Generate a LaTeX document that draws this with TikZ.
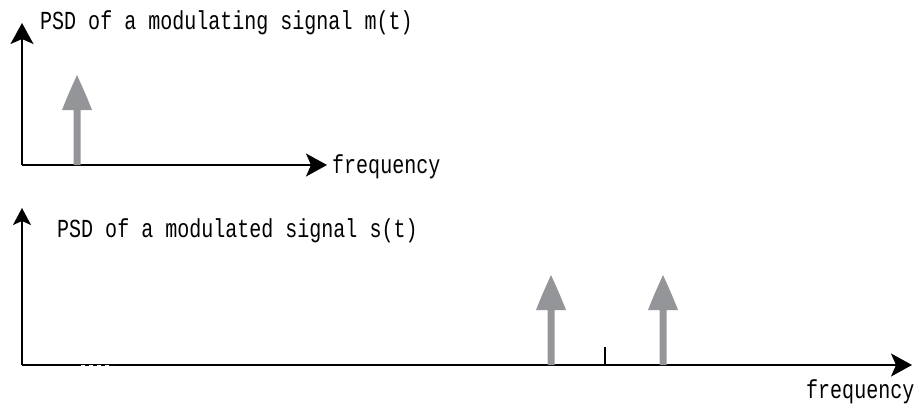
\documentclass[tikz,border=0pt]{standalone}
\usepackage{fontspec}
\setmonofont{Liberation Mono}
\usetikzlibrary{arrows.meta}
\definecolor{gcol}{HTML}{939598}
\tikzset{
  axis/.style={line width=1.8pt, black},
  bigtip/.style={-{Stealth[length=21pt 0 0, width=23pt 0 0, inset=5pt 0 0]}},
  smalltip/.style={-{Stealth[length=17pt 0 0, width=18pt 0 0, inset=4pt 0 0]}},
  lbl/.style={inner sep=0pt, font=\fontsize{26}{26}\selectfont\ttfamily},
  gfill/.style={fill=gcol, draw=none}
}
\newcommand\grayarrow[3]{%
  \fill[gfill] (#1-3.5,#2) -- (#1-3.5,#3+35) -- (#1-15,#3+35)
    .. controls (#1-9,#3+20) .. (#1,#3)
    .. controls (#1+9,#3+20) .. (#1+15,#3+35)
    -- (#1+3.5,#3+35) -- (#1+3.5,#2) -- cycle;}
\begin{document}
\begin{tikzpicture}[x=1pt,y=-1pt]
\useasboundingbox (0,0) rectangle (917,404);
% top panel
\coordinate (o1) at (22,165);
\coordinate (y1) at (22,23);
\coordinate (x1) at (327,165);
\draw[axis,bigtip] (o1) -- (y1);
\draw[axis,bigtip] (o1) -- (x1);
\grayarrow{77}{165}{75}
\node[lbl,anchor=base west] (t1) at (40,30) {\scalebox{0.77}[1]{PSD of a modulating signal m(t)}};
\node[lbl,anchor=base west] (f1) at (332,173) {\scalebox{0.77}[1]{frequency}};
% bottom panel
\coordinate (o2) at (22,365);
\coordinate (y2) at (22,208);
\coordinate (x2) at (912,365);
\draw[axis,smalltip,line width=1.6pt] (o2) -- (y2);
\draw[axis,bigtip] (o2) -- (x2);
\draw[white,line width=1pt,dash pattern=on 4pt off 4pt] (81,365) -- (113,365);
\grayarrow{551}{365}{275}
\grayarrow{663}{365}{275}
\coordinate (tk0) at (605,365);
\coordinate (tk1) at (605,347);
\draw[line width=1.5pt] (tk0) -- (tk1);
\node[lbl,anchor=base west] (t2) at (57,237) {\scalebox{0.77}[1]{PSD of a modulated signal s(t)}};
\node[lbl,anchor=base west] (f2) at (806,398) {\scalebox{0.77}[1]{frequency}};
\end{tikzpicture}
\end{document}
